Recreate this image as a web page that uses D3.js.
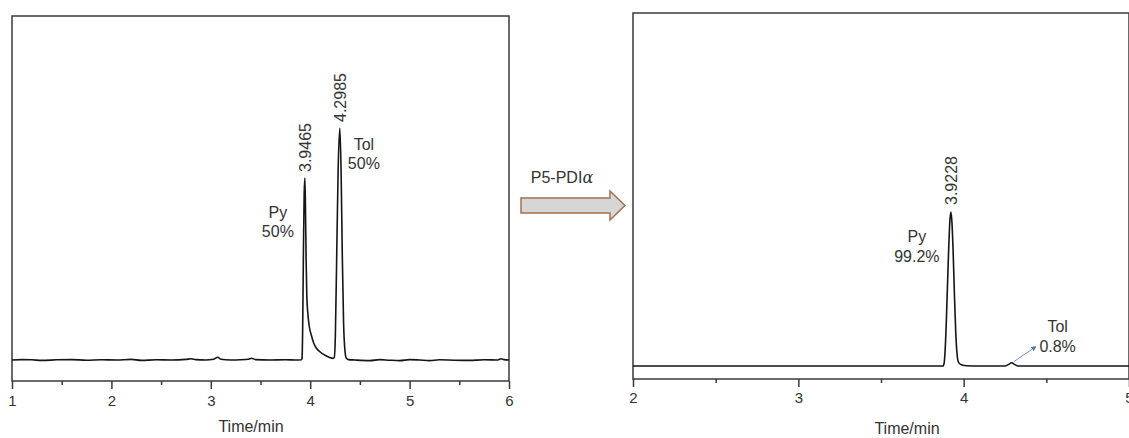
<!DOCTYPE html>
<html>
<head>
<meta charset="utf-8">
<script src="https://cdnjs.cloudflare.com/ajax/libs/d3/7.8.5/d3.min.js"></script>
<style>
  html, body { margin: 0; padding: 0; background: #fff; }
  svg text { font-family: "Liberation Sans", Arial, sans-serif; fill: #333; }
</style>
</head>
<body>
<div id="chart"></div>
<script>
// Data (time in min, signal in arbitrary units)
////////////////////////////////////////////////////////////////////
const leftTrace = [
  [1.0, 0], [1.1, 0.2], [1.2, 0.1], [1.3, -0.2], [1.45, 0.1], [1.6, 0.2], [1.75, -0.1],
  [1.9, 0.1], [2.05, 0], [2.2, 0.3], [2.3, -0.2], [2.45, 0.1], [2.6, 0], [2.75, 0.3],
  [2.8, 0.6], [2.85, 0.2], [2.95, 0], [3.03, 0.4], [3.07, 1.4], [3.1, 0.4], [3.2, 0],
  [3.3, 0.1], [3.38, 0.4], [3.41, 0.9], [3.45, 0.2], [3.6, 0], [3.75, 0.1], [3.85, 0],
  [3.912, 0.1], [3.918, 1], [3.924, 15], [3.931, 50], [3.939, 82], [3.9465, 91],
  [3.953, 74], [3.959, 50], [3.966, 32], [3.975, 24], [3.99, 17], [4.011, 12.5],
  [4.035, 8.5], [4.061, 6], [4.10, 4], [4.145, 2.5], [4.19, 1.4], [4.229, 0.8],
  [4.242, 1.2], [4.253, 12], [4.266, 50], [4.281, 95], [4.2985, 116], [4.311, 94],
  [4.323, 52], [4.336, 18], [4.349, 5], [4.362, 1], [4.385, 0.2], [4.45, 0],
  [4.6, -0.3], [4.7, 0.2], [4.8, -0.1], [4.9, -0.3], [5.0, 0.2], [5.1, 0], [5.2, -0.3],
  [5.3, 0.1], [5.45, -0.1], [5.6, -0.2], [5.75, 0.1], [5.88, 0], [5.92, 0.6],
  [5.95, 0.2], [6.0, 0]
];

const rightTrace = [
  [2.0, 0], [3.0, 0], [3.6, 0], [3.875, 0], [3.882, 1.5], [3.888, 8], [3.895, 22],
  [3.902, 40], [3.910, 60], [3.917, 73], [3.9228, 77], [3.929, 72], [3.936, 58],
  [3.944, 36], [3.952, 17], [3.960, 6], [3.968, 2], [3.985, 0.6], [4.02, 0.1],
  [4.1, 0], [4.25, 0], [4.27, 0.7], [4.29, 1.6], [4.31, 0.7], [4.33, 0], [4.6, 0], [5.0, 0]
];

// Peak labels: retention time and peak height
const leftPeaks = [[3.9465, 91], [4.2985, 116]];
const rightPeaks = [[3.9228, 77], [4.29, 1.6]];

// Compound names and area shares
const leftNames = ["Py", "Tol"];
const leftShares = ["50%", "50%"];
const rightNames = ["Py", "Tol"];
const rightShares = ["99.2%", "0.8%"];

const leftTicks = [1, 2, 3, 4, 5, 6];
const leftMinor = [1.5, 2.5, 3.5, 4.5, 5.5];
const rightTicks = [2, 3, 4, 5];
const rightMinor = [2.5, 3.5, 4.5];

const arrowLabel = "P5-PDI";
const xTitle = "Time/min";

// Svg
////////////////////////////////////////////////////////////////////
const svg = d3
  .select("#chart")
  .append("svg")
  .attr("width", 1129)
  .attr("height", 438);

// Panels
////////////////////////////////////////////////////////////////////
function panel(cfg) {
  const xScale = d3.scaleLinear().domain(cfg.xDomain).range([cfg.left, cfg.right]);
  const yScale = d3.scaleLinear().domain(cfg.yDomain).range([cfg.bottom, cfg.top]);

  const g = svg.append("g");

  // frame
  g.append("rect")
    .attr("x", cfg.left)
    .attr("y", cfg.top)
    .attr("width", cfg.right - cfg.left)
    .attr("height", cfg.bottom - cfg.top)
    .attr("fill", "none")
    .attr("stroke", "#3a3a3a")
    .attr("stroke-width", 1.5);

  // major ticks
  const xAxis = d3.axisBottom(xScale)
    .tickValues(cfg.ticks)
    .tickFormat(d3.format("d"))
    .tickSize(8)
    .tickPadding(cfg.pad);

  const axisGroup = g.append("g")
    .attr("transform", `translate(0,${cfg.bottom})`)
    .call(xAxis);
  axisGroup.select(".domain").remove();
  axisGroup.selectAll("line").attr("stroke", "#3a3a3a").attr("stroke-width", 1.5);
  axisGroup.selectAll("text")
    .style("font-size", "15px")
    .attr("fill", "#333")
    .style("font-family", "Liberation Sans, Arial, sans-serif");

  // minor ticks
  const minorGroup = g.append("g")
    .attr("transform", `translate(0,${cfg.bottom})`)
    .call(d3.axisBottom(xScale).tickValues(cfg.minor).tickSize(4).tickFormat(""));
  minorGroup.select(".domain").remove();
  minorGroup.selectAll("line").attr("stroke", "#3a3a3a").attr("stroke-width", 1.5);

  // axis title
  g.append("text")
    .attr("x", cfg.titleX)
    .attr("y", cfg.bottom + cfg.titleDy)
    .attr("text-anchor", "middle")
    .style("font-size", "16px")
    .text(xTitle);

  // trace
  const line = d3.line()
    .x((d) => xScale(d[0]))
    .y((d) => yScale(d[1]))
    .curve(d3.curveMonotoneX);

  g.append("path")
    .datum(cfg.trace)
    .attr("d", line)
    .attr("fill", "none")
    .attr("stroke", "#151515")
    .attr("stroke-width", 1.6)
    .attr("stroke-linejoin", "round");

  return { g, xScale, yScale };
}

// Left chromatogram
////////////////////////////////////////////////////////////////////
const L = panel({
  left: 12, right: 509, top: 16, bottom: 381,
  xDomain: [1, 6], yDomain: [-10.5, 172],
  ticks: leftTicks, minor: leftMinor, trace: leftTrace,
  titleX: 251, titleDy: 51, pad: 6.5
});

// retention time labels (rotated)
L.g.selectAll(".rt")
  .data(leftPeaks)
  .join("text")
  .attr("class", "rt")
  .attr("transform", (d) => `translate(${L.xScale(d[0]) + 6},${L.yScale(d[1]) - 6}) rotate(-90)`)
  .style("font-size", "16px")
  .text((d) => d[0].toFixed(4));

// Py label left of peak, Tol label right of peak
const leftLabelX = [L.xScale(leftPeaks[0][0]) - 27, L.xScale(leftPeaks[1][0]) + 24];
const leftLabelY = [218, 150];
leftNames.forEach((name, i) => {
  L.g.append("text")
    .attr("x", leftLabelX[i]).attr("y", leftLabelY[i])
    .attr("text-anchor", "middle").style("font-size", "16px").text(name);
  L.g.append("text")
    .attr("x", leftLabelX[i]).attr("y", leftLabelY[i] + 19)
    .attr("text-anchor", "middle").style("font-size", "16px").text(leftShares[i]);
});

// Right chromatogram
////////////////////////////////////////////////////////////////////
const R = panel({
  left: 633, right: 1129, top: 13, bottom: 379,
  xDomain: [2, 5], yDomain: [-6.5, 176.5],
  ticks: rightTicks, minor: rightMinor, trace: rightTrace,
  titleX: 907, titleDy: 55, pad: 5
});

R.g.append("text")
  .attr("transform", `translate(${R.xScale(rightPeaks[0][0]) + 6},${R.yScale(rightPeaks[0][1]) - 7}) rotate(-90)`)
  .style("font-size", "16px")
  .text(rightPeaks[0][0].toFixed(4));

const rightLabelX = [R.xScale(rightPeaks[0][0]) - 34, R.xScale(rightPeaks[1][0]) + 46];
const rightLabelY = [242, 332];
rightNames.forEach((name, i) => {
  R.g.append("text")
    .attr("x", rightLabelX[i]).attr("y", rightLabelY[i])
    .attr("text-anchor", "middle").style("font-size", "16px").text(name);
  R.g.append("text")
    .attr("x", rightLabelX[i]).attr("y", rightLabelY[i] + 20)
    .attr("text-anchor", "middle").style("font-size", "16px").text(rightShares[i]);
});

// small blue pointer to the Tol bump
svg.append("defs")
  .append("marker")
  .attr("id", "blueHead")
  .attr("viewBox", "0 0 10 10")
  .attr("refX", 8).attr("refY", 5)
  .attr("markerWidth", 5).attr("markerHeight", 5)
  .attr("orient", "auto")
  .append("path")
  .attr("d", "M0,0 L10,5 L0,10 z")
  .attr("fill", "#4472c4");

const tolX = R.xScale(rightPeaks[1][0]);
const tolY = R.yScale(rightPeaks[1][1]);
R.g.append("line")
  .attr("x1", tolX + 2).attr("y1", tolY - 1)
  .attr("x2", tolX + 24).attr("y2", tolY - 16)
  .attr("stroke", "#6f93d6")
  .attr("stroke-width", 1)
  .attr("marker-end", "url(#blueHead)");

// Reaction arrow between the panels
////////////////////////////////////////////////////////////////////
const arrowPts = [[521, 198], [610, 198], [610, 191], [625, 205.5], [610, 220], [610, 213], [521, 213]];
svg.append("path")
  .attr("d", d3.line()(arrowPts) + "Z")
  .attr("fill", "#d6d6d6")
  .attr("stroke", "#a8704e")
  .attr("stroke-width", 1.5)
  .attr("stroke-linejoin", "miter");

const arrowText = svg.append("text")
  .attr("x", 562)
  .attr("y", 183)
  .attr("text-anchor", "middle")
  .style("font-size", "16px");
arrowText.append("tspan").text(arrowLabel);
arrowText.append("tspan")
  .style("font-style", "italic")
  .style("font-family", "DejaVu Serif, serif")
  .text("α");
</script>
</body>
</html>
